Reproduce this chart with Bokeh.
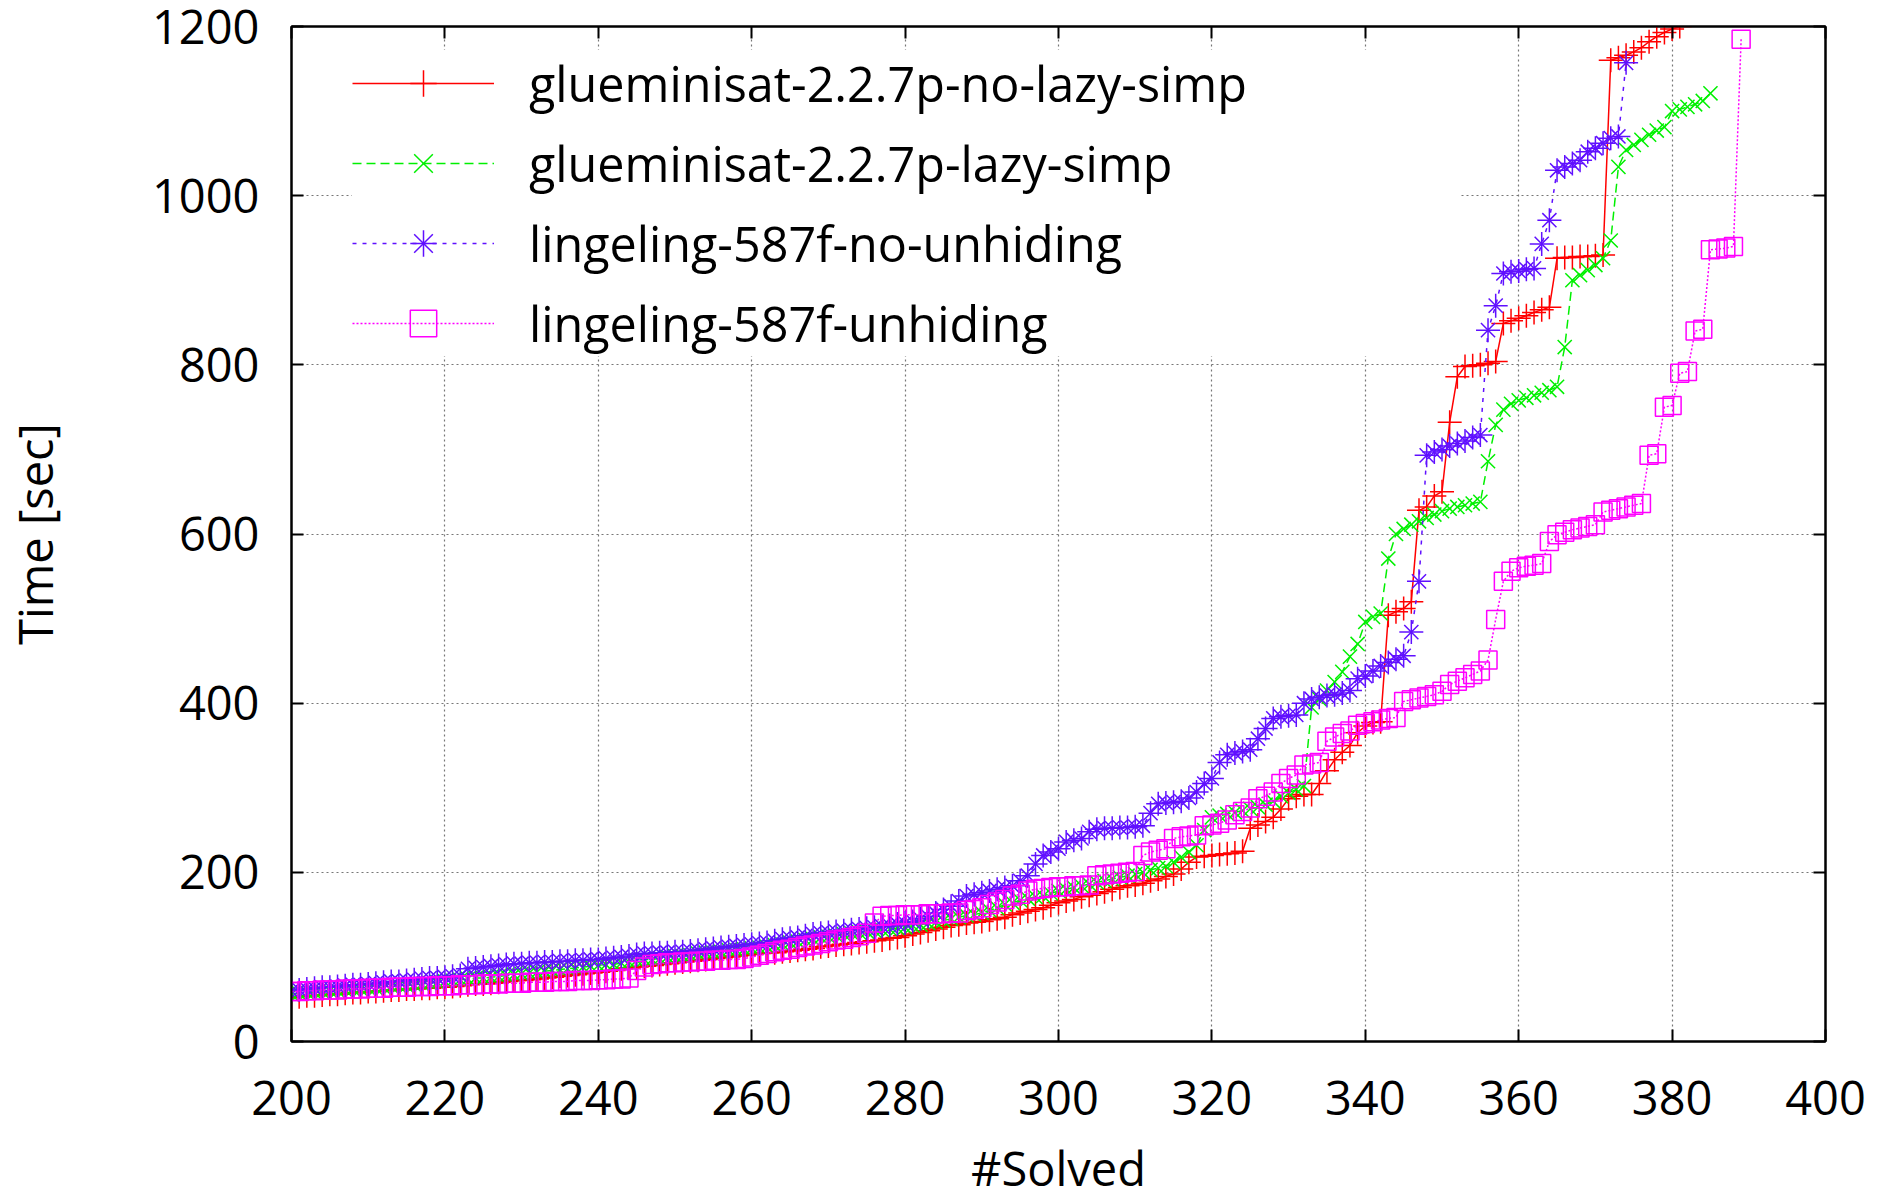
from bokeh.plotting import figure
from bokeh.models import Range1d, LinearAxis, Legend, LegendItem, FixedTicker
from bokeh.embed import file_html
from bokeh.resources import INLINE

# ---------------- data ----------------
x_ticks = [200, 220, 240, 260, 280, 300, 320, 340, 360, 380, 400]
y_ticks = [0, 200, 400, 600, 800, 1000, 1200]
x_label = "#Solved"
y_label = "Time [sec]"

first_solved = 200  # x of the first value in each list (one value per solved instance)

names = ["glueminisat-2.2.7p-no-lazy-simp", "glueminisat-2.2.7p-lazy-simp",
         "lingeling-587f-no-unhiding", "lingeling-587f-unhiding"]

glue_nolazy = [
    52, 53, 54, 54, 55, 56, 56, 57, 58, 58,
    59, 59, 60, 61, 61, 62, 62, 63, 63, 64,
    64, 65, 66, 67, 68, 68, 69, 70, 71, 72,
    72, 73, 74, 75, 76, 77, 78, 79, 80, 81,
    82, 83, 84, 86, 87, 88, 89, 90, 91, 92,
    93, 94, 95, 96, 97, 98, 99, 100, 101, 102,
    103, 104, 105, 105, 106, 107, 108, 109, 110, 112,
    113, 114, 115, 116, 117, 118, 119, 120, 122, 123,
    125, 127, 129, 131, 133, 135, 137, 138, 140, 141,
    142, 144, 145, 147, 150, 152, 154, 156, 158, 161,
    164, 166, 168, 171, 173, 175, 177, 180, 182, 184,
    185, 187, 190, 192, 195, 198, 204, 212, 218, 219,
    220, 221, 222, 223, 225, 252, 256, 260, 265, 275,
    287, 290, 292, 292, 305, 320, 333, 342, 350, 365,
    373, 377, 378, 504, 508, 512, 520, 628, 632, 645,
    650, 732, 786, 798, 799, 800, 802, 804, 849, 852,
    855, 858, 862, 865, 868, 926, 927, 927, 928, 928,
    929, 930, 1160, 1163, 1166, 1170, 1175, 1182, 1188, 1193,
    1197, 1200]

glue_lazy = [
    56, 57, 58, 58, 59, 60, 60, 61, 62, 62,
    63, 63, 64, 65, 66, 66, 67, 68, 69, 70,
    71, 72, 73, 74, 75, 75, 76, 77, 78, 79,
    80, 81, 82, 83, 84, 85, 86, 87, 88, 89,
    90, 91, 91, 93, 94, 96, 97, 97, 98, 100,
    101, 101, 102, 104, 105, 105, 106, 108, 108, 109,
    110, 111, 112, 114, 115, 117, 118, 120, 121, 123,
    124, 125, 127, 128, 129, 130, 131, 132, 133, 134,
    135, 137, 138, 140, 141, 143, 145, 147, 149, 150,
    152, 155, 158, 162, 164, 167, 169, 171, 172, 175,
    178, 180, 182, 184, 186, 188, 190, 192, 194, 196,
    198, 200, 203, 205, 207, 212, 218, 224, 232, 250,
    265, 267, 269, 271, 273, 275, 277, 280, 284, 290,
    294, 298, 302, 395, 405, 415, 425, 437, 455, 470,
    496, 502, 506, 571, 600, 606, 611, 615, 619, 623,
    627, 630, 632, 634, 636, 638, 686, 729, 747, 754,
    758, 761, 764, 767, 770, 774, 821, 900, 906, 912,
    918, 926, 947, 1034, 1054, 1060, 1066, 1072, 1077, 1081,
    1100, 1102, 1105, 1108, 1112, 1121]

ling_nounhide = [
    60, 61, 62, 63, 64, 64, 65, 66, 67, 67,
    68, 69, 70, 71, 71, 72, 73, 74, 75, 75,
    76, 77, 78, 86, 87, 88, 89, 90, 91, 92,
    92, 93, 93, 94, 94, 95, 95, 96, 96, 97,
    97, 98, 99, 100, 101, 103, 104, 104, 105, 105,
    106, 106, 107, 108, 109, 110, 111, 112, 113, 114,
    115, 116, 117, 119, 121, 122, 123, 125, 127, 128,
    129, 130, 131, 132, 133, 134, 135, 136, 137, 139,
    140, 142, 145, 148, 152, 156, 160, 166, 172, 174,
    176, 178, 180, 182, 184, 190, 196, 210, 220, 224,
    228, 236, 238, 240, 248, 251, 252, 252, 253, 253,
    254, 255, 270, 281, 282, 283, 284, 288, 295, 305,
    311, 330, 339, 341, 343, 345, 358, 370, 382, 384,
    385, 386, 400, 405, 407, 409, 410, 412, 415, 429,
    432, 438, 444, 448, 452, 456, 484, 544, 693, 697,
    700, 704, 707, 710, 714, 717, 841, 870, 908, 910,
    911, 913, 914, 943, 971, 1030, 1034, 1038, 1042, 1052,
    1056, 1062, 1068, 1070, 1157]

ling_unhide = [
    59, 59, 60, 60, 61, 61, 61, 62, 62, 62,
    63, 63, 63, 64, 64, 64, 65, 65, 65, 66,
    66, 66, 67, 67, 67, 68, 68, 68, 69, 69,
    69, 70, 70, 70, 71, 71, 71, 72, 72, 72,
    73, 73, 74, 74, 75, 84, 88, 91, 92, 93,
    93, 94, 94, 95, 95, 96, 96, 97, 97, 98,
    100, 102, 104, 106, 108, 109, 111, 113, 114, 116,
    118, 120, 121, 123, 125, 128, 140, 148, 149, 149,
    150, 150, 150, 151, 151, 151, 152, 152, 155, 156,
    158, 162, 165, 168, 172, 174, 178, 180, 181, 182,
    183, 183, 184, 184, 185, 196, 197, 198, 199, 200,
    201, 220, 224, 226, 228, 240, 242, 243, 244, 255,
    256, 258, 262, 268, 272, 276, 287, 290, 295, 305,
    311, 315, 327, 328, 330, 355, 360, 364, 367, 374,
    376, 378, 380, 382, 383, 402, 404, 406, 408, 410,
    414, 422, 426, 430, 434, 438, 451, 499, 544, 556,
    560, 562, 563, 565, 591, 599, 602, 605, 607, 609,
    611, 626, 628, 630, 632, 634, 636, 693, 695, 750,
    752, 790, 792, 840, 842, 936, 937, 938, 940, 1185]

series = [glue_nolazy, glue_lazy, ling_nounhide, ling_unhide]

# ---------------- styles ----------------
FONT = "Open Sans"
colors = ["#ff0000", "#00f000", "#6010ff", "#ff00ff"]
dashes = ["solid", "9 5", "4 6", "2 2"]
# gnuplot point types: +, x, * (= + and x overlaid), open square
markers = [[("cross", 24)], [("x", 20)], [("cross", 24), ("x", 20)], [("square", 18)]]

p = figure(width=1880, height=1204, output_backend="svg", toolbar_location=None,
           x_range=Range1d(200, 400), y_range=Range1d(0, 1200),
           min_border_left=290, min_border_right=55, min_border_top=26, min_border_bottom=163,
           background_fill_color="white", border_fill_color="white")

p.outline_line_color = "black"
p.outline_line_width = 2

for g in (p.xgrid, p.ygrid):
    g.grid_line_color = "#777777"
    g.grid_line_dash = "2 3"
    g.grid_line_width = 1.2
p.xgrid.ticker = FixedTicker(ticks=x_ticks)
p.ygrid.ticker = FixedTicker(ticks=y_ticks)

bottom_axis = p.below[0]
left_axis = p.left[0]
bottom_axis.ticker = FixedTicker(ticks=x_ticks)
left_axis.ticker = FixedTicker(ticks=y_ticks)

top_axis = LinearAxis(ticker=FixedTicker(ticks=x_ticks))
right_axis = LinearAxis(ticker=FixedTicker(ticks=y_ticks))
p.add_layout(top_axis, "above")
p.add_layout(right_axis, "right")

for ax in [bottom_axis, left_axis, top_axis, right_axis]:
    ax.axis_line_color = "black"
    ax.axis_line_width = 2
    ax.major_tick_in = 12
    ax.major_tick_out = 0
    ax.major_tick_line_width = 2
    ax.major_tick_line_color = "black"
    ax.minor_tick_line_color = None
    ax.major_label_text_font = FONT
    ax.major_label_text_font_size = "47px"
    ax.major_label_text_color = "black"
    ax.axis_label_text_font = FONT
    ax.axis_label_text_font_size = "47px"
    ax.axis_label_text_font_style = "normal"
    ax.axis_label_text_color = "black"

# mirrored tick marks only (no labels) on the top and right sides
for ax in [top_axis, right_axis]:
    ax.major_label_text_font_size = "1px"
    ax.major_label_text_color = None
    ax.major_label_standoff = 0

bottom_axis.axis_label = x_label
bottom_axis.major_label_standoff = 39
bottom_axis.axis_label_standoff = 18
left_axis.axis_label = y_label
left_axis.major_label_standoff = 32
left_axis.axis_label_standoff = 82

items = []
for name, vals, c, d, mk in zip(names, series, colors, dashes, markers):
    xs = list(range(first_solved, first_solved + len(vals)))
    rs = [p.line(xs, vals, line_color=c, line_width=1.5, line_dash=d)]
    for m, s in mk:
        rs.append(p.scatter(xs, vals, marker=m, size=s, line_color=c, fill_color=None, line_width=1.5))
    items.append(LegendItem(label=name, renderers=rs))

# legend box: bottom-left corner given in screen px from the frame's bottom-left
legend = Legend(items=items, location=(61, 685), padding=6, margin=0,
                glyph_width=142, glyph_height=66, label_height=66, spacing=14,
                label_standoff=35, label_width=930,
                label_text_font=FONT, label_text_font_size="48.5px", label_text_color="black",
                background_fill_color="white", background_fill_alpha=1.0,
                border_line_color=None)
p.add_layout(legend, "center")

open("out.html", "w").write(file_html(p, INLINE))
